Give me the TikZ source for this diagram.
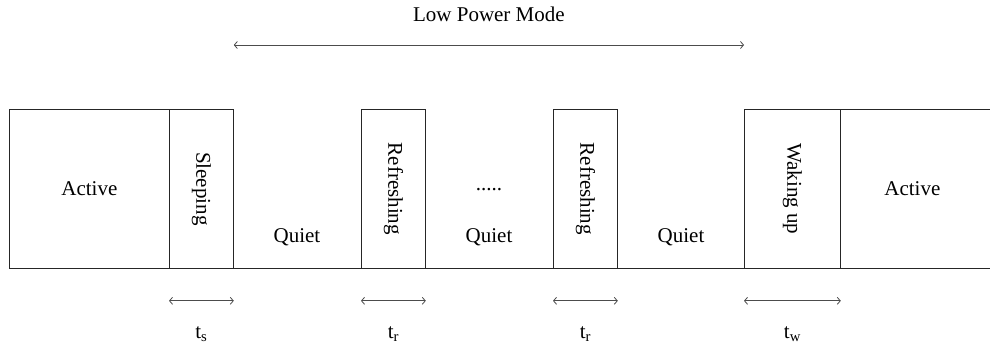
\documentclass[tikz,border=0pt]{standalone}
\usepackage{fontspec}
\setmainfont{Liberation Serif}
\usetikzlibrary{arrows.meta,calc}
\begin{document}
\begin{tikzpicture}[x=1pt,y=-1pt,line width=0.8pt,
  font=\fontsize{21}{25}\selectfont,
  box/.style={draw=black!85, inner sep=0pt, minimum height=159pt, anchor=north west},
  quiet/.style={inner sep=0pt},
  dim/.style={draw=black!70, {Straight Barb[length=3pt,width=7pt]}-{Straight Barb[length=3pt,width=7pt]}}]
\useasboundingbox (0,0) rectangle (990,346);
% boxes
\node[box, minimum width=160pt] (a1) at (9,109) {};
\node[box, minimum width=64pt] (s) at (169,109) {};
\node[box, minimum width=64pt] (r1) at (361,109) {};
\node[box, minimum width=64pt] (r2) at (553,109) {};
\node[box, minimum width=96pt] (w) at (744,109) {};
\node[box, minimum width=152pt] (a2) at (840,109) {};
% baseline
\draw[black!85] (a1.south west) -- (a2.south east);
% labels in boxes
\node at (a1.center) {Active};
\node[rotate=-90] at (s.center) {Sleeping};
\node[rotate=-90] at (r1.center) {Refreshing};
\node[rotate=-90] at (r2.center) {Refreshing};
\node[rotate=-90] at (w.center) {Waking up};
\node at ([xshift=-4pt]a2.center) {Active};
% quiet regions
\node[quiet] (q1) at (297,237) {Quiet};
\node[quiet] (q2) at (489,237) {Quiet};
\node[quiet] (q3) at (681,237) {Quiet};
\node[quiet] (dots) at (489,190) {.....};
% low power mode
\draw[dim] ([yshift=64pt]s.north east) coordinate (lpA) -- ([yshift=64pt]w.north west) coordinate (lpB);
\node (lpm) at ([yshift=31pt]$(lpA)!0.5!(lpB)$) {Low Power Mode};
% durations
\draw[dim] ([yshift=-32pt]s.south west) -- ([yshift=-32pt]s.south east);
\draw[dim] ([yshift=-32pt]r1.south west) -- ([yshift=-32pt]r1.south east);
\draw[dim] ([yshift=-32pt]r2.south west) -- ([yshift=-32pt]r2.south east);
\draw[dim] ([yshift=-32pt]w.south west) -- ([yshift=-32pt]w.south east);
\node (ts) at ([yshift=-65pt]s.south) {t\textsubscript{s}};
\node (tr1) at ([yshift=-65pt]r1.south) {t\textsubscript{r}};
\node (tr2) at ([yshift=-65pt]r2.south) {t\textsubscript{r}};
\node (tw) at ([yshift=-65pt]w.south) {t\textsubscript{w}};
\end{tikzpicture}
\end{document}
